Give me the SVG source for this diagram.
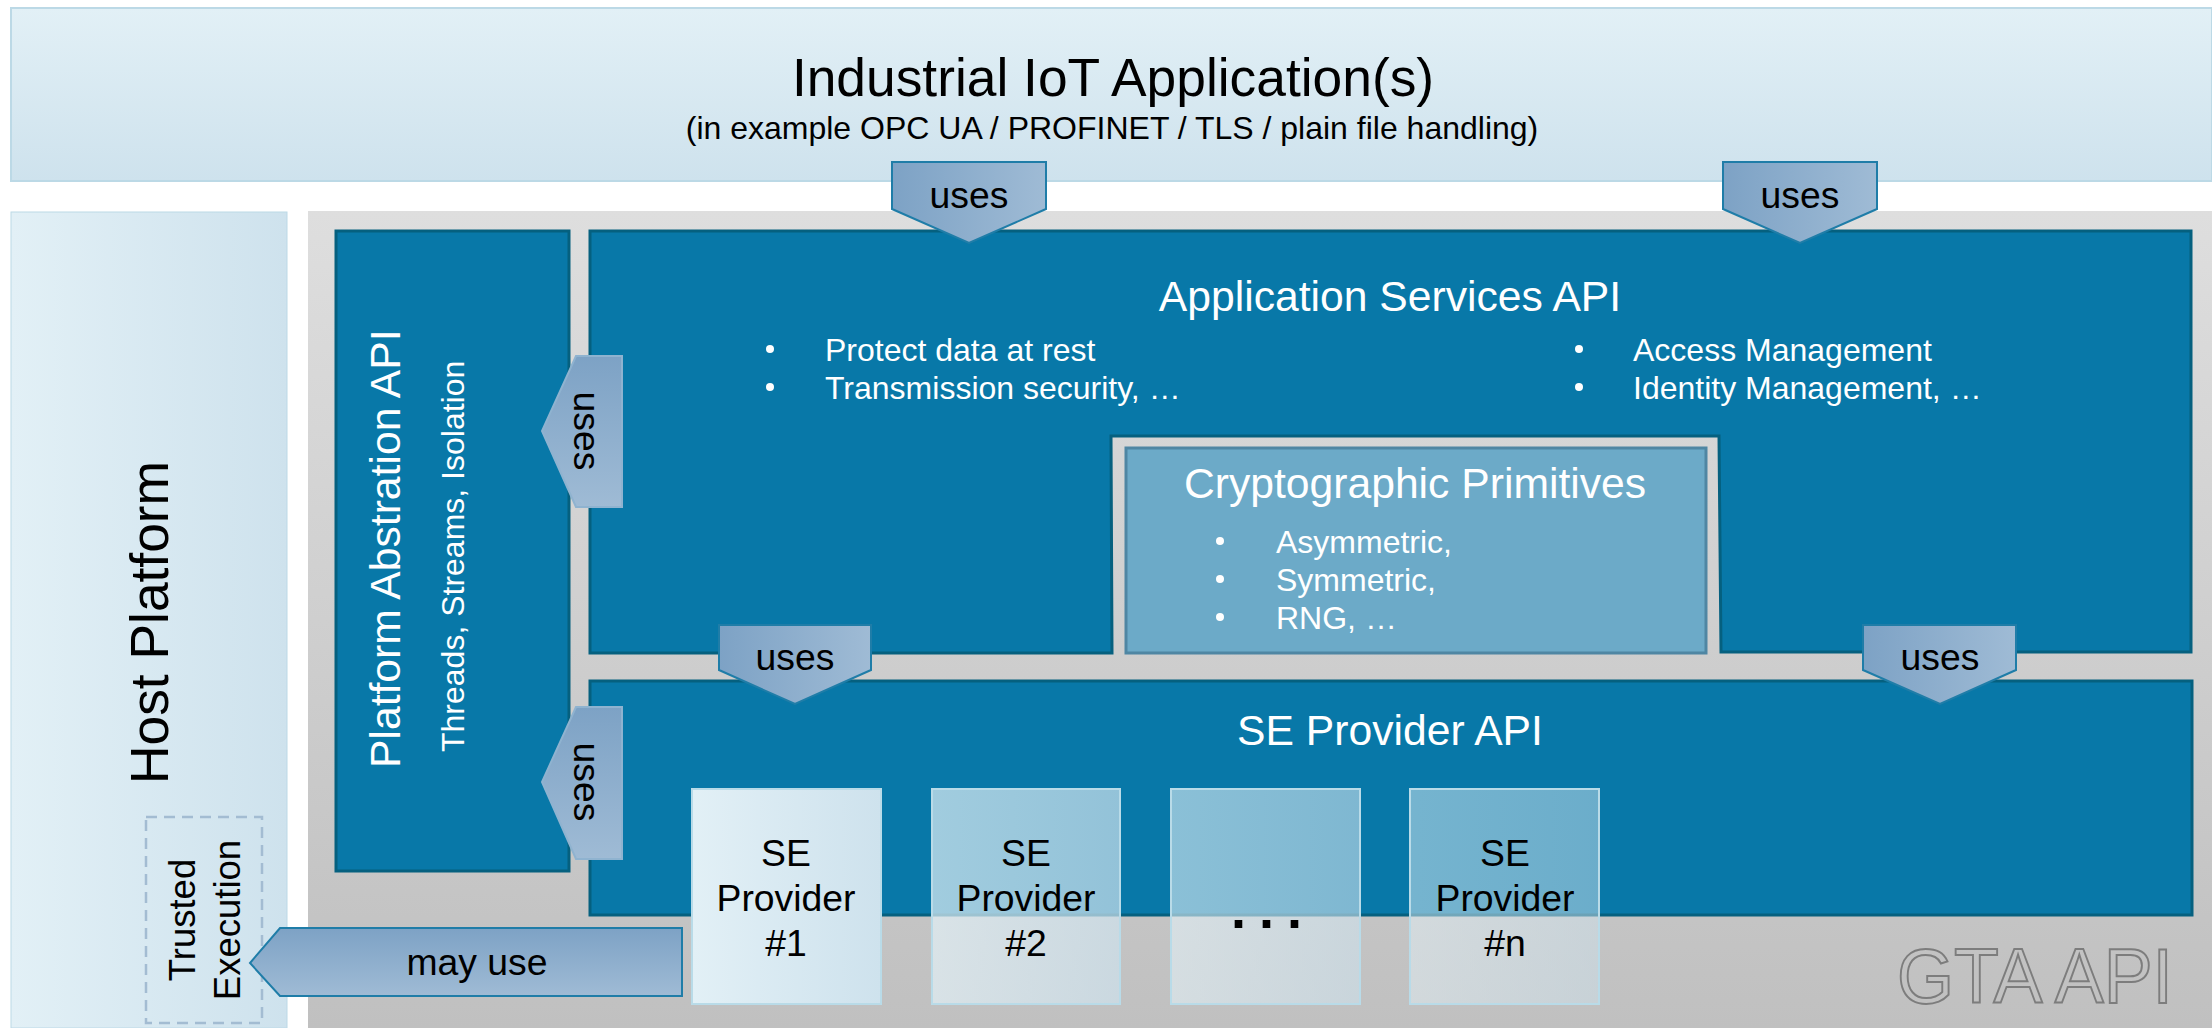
<svg xmlns="http://www.w3.org/2000/svg" width="2212" height="1028" viewBox="0 0 2212 1028">
<defs>
<linearGradient id="gV" x1="0" y1="0" x2="0" y2="1"><stop offset="0" stop-color="#e2f0f6"/><stop offset="1" stop-color="#cee2ed"/></linearGradient>
<linearGradient id="gH" x1="0" y1="0" x2="1" y2="0"><stop offset="0" stop-color="#e2f0f6"/><stop offset="1" stop-color="#cee2ed"/></linearGradient>
<linearGradient id="gGray" x1="0" y1="0" x2="0" y2="1"><stop offset="0" stop-color="#dedede"/><stop offset="1" stop-color="#c0c0c0"/></linearGradient>
<linearGradient id="aH" x1="0" y1="0" x2="1" y2="0"><stop offset="0" stop-color="#7da2c5"/><stop offset="1" stop-color="#9fbbd5"/></linearGradient>
<linearGradient id="aV" x1="0" y1="0" x2="0" y2="1"><stop offset="0" stop-color="#7da2c5"/><stop offset="1" stop-color="#9fbbd5"/></linearGradient>
</defs>
<style>
text{font-family:"Liberation Sans",Arial,sans-serif;fill:#000}
.w{fill:#fff}
.m{text-anchor:middle}
.api{fill:#0878a8;stroke:#05607f;stroke-width:3}
.light{stroke:#bcd9e6;stroke-width:2}
.arrH{fill:url(#aH);stroke:#1f7da8;stroke-width:2}
.arrV{fill:url(#aV);stroke:#1f7da8;stroke-width:2}
.arrL{fill:url(#aV);stroke:#8fb3d0;stroke-width:2}
.se{stroke:#b9dbe8;stroke-width:2}
.t32{font-size:32px}
.t37{font-size:37.33px}
.t43{font-size:42.67px}
.t53{font-size:53.33px}
</style>

<g id="iot-application">
<rect x="11" y="8" width="2201" height="173" fill="url(#gV)" class="light"/>
<text x="1113" y="96" class="m t53">Industrial IoT Application(s)</text>
<text x="1112" y="139" class="m t32">(in example OPC UA / PROFINET / TLS / plain file handling)</text>
</g>

<g id="host-platform">
<rect x="11" y="212" width="276" height="816" fill="url(#gH)" stroke="#bcd9e6" stroke-width="1"/>
<text transform="translate(168,784) rotate(-90)" class="t53">Host Platform</text>
</g>

<g id="trusted-execution">
<rect x="146" y="817" width="116" height="206" fill="none" stroke="#a3bcd2" stroke-width="2.5" stroke-dasharray="11 7"/>
<text transform="translate(195,920) rotate(-90)" class="m" font-size="36.5">Trusted</text>
<text transform="translate(240,920) rotate(-90)" class="m" font-size="36.5">Execution</text>
</g>

<g id="gta-api">
<rect x="308" y="211" width="1904" height="817" fill="url(#gGray)"/>
<text x="1897" y="1003" font-size="78" style="fill:none;stroke:#7d7d7d;stroke-width:2" textLength="276" lengthAdjust="spacingAndGlyphs">GTA API</text>
</g>

<g id="platform-abstraction-api">
<rect x="336" y="231" width="233" height="640" class="api"/>
<text transform="translate(400,768) rotate(-90)" class="w t43">Platform Abstration API</text>
<text transform="translate(464,752) rotate(-90)" class="w t32">Threads, Streams, Isolation</text>
</g>

<g id="application-services-api">
<path d="M590 231H2191V652L1721 652L1719 436H1111L1112 653H590Z" class="api"/>
<text x="1390" y="311" class="m w t43">Application Services API</text>
<circle cx="770" cy="349" r="4" fill="#fff"/><text x="825" y="361" class="w t32">Protect data at rest</text>
<circle cx="770" cy="387" r="4" fill="#fff"/><text x="825" y="399" class="w t32">Transmission security, …</text>
<circle cx="1579" cy="349" r="4" fill="#fff"/><text x="1633" y="361" class="w t32">Access Management</text>
<circle cx="1579" cy="387" r="4" fill="#fff"/><text x="1633" y="399" class="w t32">Identity Management, …</text>
</g>

<g id="cryptographic-primitives">
<rect x="1126" y="448" width="580" height="205" fill="#6caac8" stroke="#4f86a3" stroke-width="3"/>
<text x="1415" y="498" class="m w t43">Cryptographic Primitives</text>
<circle cx="1220" cy="541" r="4" fill="#fff"/><text x="1276" y="553" class="w t32">Asymmetric,</text>
<circle cx="1220" cy="579" r="4" fill="#fff"/><text x="1276" y="591" class="w t32">Symmetric,</text>
<circle cx="1220" cy="617" r="4" fill="#fff"/><text x="1276" y="629" class="w t32">RNG, …</text>
</g>

<g id="se-provider-api">
<rect x="590" y="681" width="1602" height="234" class="api"/>
<text x="1390" y="745" class="m w t43">SE Provider API</text>
</g>

<g id="se-provider-1">
<rect x="692" y="789" width="189" height="215" fill="url(#gH)" class="se"/>
<text x="786" y="866" class="m t37">SE</text><text x="786" y="911" class="m t37">Provider</text><text x="786" y="956" class="m t37">#1</text>
</g>
<g id="se-provider-2">
<rect x="932" y="789" width="188" height="215" fill="url(#gH)" fill-opacity=".7" class="se"/>
<text x="1026" y="866" class="m t37">SE</text><text x="1026" y="911" class="m t37">Provider</text><text x="1026" y="956" class="m t37">#2</text>
</g>
<g id="se-provider-dots">
<rect x="1171" y="789" width="189" height="215" fill="url(#gH)" fill-opacity=".6" class="se"/>
<text x="1231" y="928" font-size="54" font-weight="bold" letter-spacing="13">...</text>
</g>
<g id="se-provider-n">
<rect x="1410" y="789" width="189" height="215" fill="url(#gH)" fill-opacity=".5" class="se"/>
<text x="1505" y="866" class="m t37">SE</text><text x="1505" y="911" class="m t37">Provider</text><text x="1505" y="956" class="m t37">#n</text>
</g>

<g id="connectors">
<g><path d="M892 162H1046V209L969 243L892 209Z" class="arrH"/><text x="969" y="208" class="m t37">uses</text></g>
<g><path d="M1723 162H1877V209L1800 243L1723 209Z" class="arrH"/><text x="1800" y="208" class="m t37">uses</text></g>
<g><path d="M719 625H871V670L795 704L719 670Z" class="arrH"/><text x="795" y="670" class="m t37">uses</text></g>
<g><path d="M1863 625H2016V670L1940 704L1863 670Z" class="arrH"/><text x="1940" y="670" class="m t37">uses</text></g>
<g><path d="M622 356H576L542 431L576 507H622Z" class="arrL"/><text transform="translate(574,431) rotate(90)" class="m t37">uses</text></g>
<g><path d="M622 707H576L542 782L576 859H622Z" class="arrL"/><text transform="translate(574,782) rotate(90)" class="m t37">uses</text></g>
<g><path d="M682 928H280L250 963L280 996H682Z" class="arrV"/><text x="477" y="975" class="m t37">may use</text></g>
</g>
</svg>
